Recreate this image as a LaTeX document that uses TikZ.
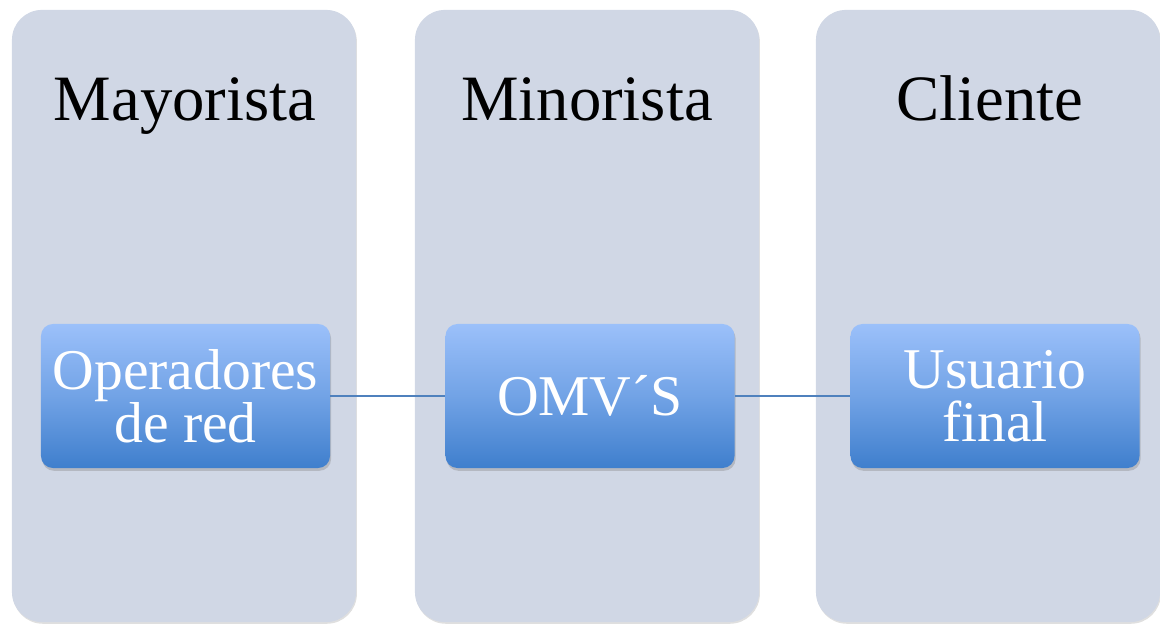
\documentclass[tikz,border=0pt]{standalone}
\usepackage{fontspec}
\setmainfont{Liberation Serif}
\usepackage{tikz}
\usetikzlibrary{shadows}

\definecolor{colfill}{RGB}{208,215,229}
\definecolor{boxtop}{RGB}{155,192,250}
\definecolor{boxbot}{RGB}{63,127,205}
\definecolor{linkline}{RGB}{79,129,189}

\begin{document}
\begin{tikzpicture}[x=0.025cm,y=-0.025cm, semithick]
\tikzstyle{column}=[rectangle, rounded corners=0.75cm, fill=colfill, inner sep=0pt,
  minimum width=8.6cm, minimum height=15.3cm,
  drop shadow={opacity=0.25, shadow xshift=0.6pt, shadow yshift=-1.2pt}]
\tikzstyle{heading}=[text=black, anchor=base, font=\fontsize{46}{50}\selectfont]
\tikzstyle{level}=[rectangle, rounded corners=0.3cm, top color=boxtop, bottom color=boxbot,
  middle color=boxtop!55!boxbot, inner sep=0pt, minimum width=7.225cm, minimum height=3.6cm,
  text=white, align=center, font=\fontsize{41}{38}\selectfont,
  drop shadow={opacity=0.35, shadow xshift=0.8pt, shadow yshift=-2pt}]
\useasboundingbox (0,0) rectangle (1160,624);
% columnas
\node[column] (may) at (184,316) {};
\node[column] (min) at (587,316) {};
\node[column] (cli) at (988,316) {};
\node[heading] (tmay) at (185,120) {Mayorista};
\node[heading] (tmin) at (587,120) {Minorista};
\node[heading] (tcli) at (990,120) {Cliente};
% actores
\node[level] (op) at (185.5,396) {Operadores\\de red};
\node[level] (omv) at (590,396) {OMV´S};
\node[level] (usr) at (995,396) {Usuario\\final};
\draw[linkline, line width=0.9pt] (op) -- (omv)
      (omv) -- (usr);
\end{tikzpicture}
\end{document}
